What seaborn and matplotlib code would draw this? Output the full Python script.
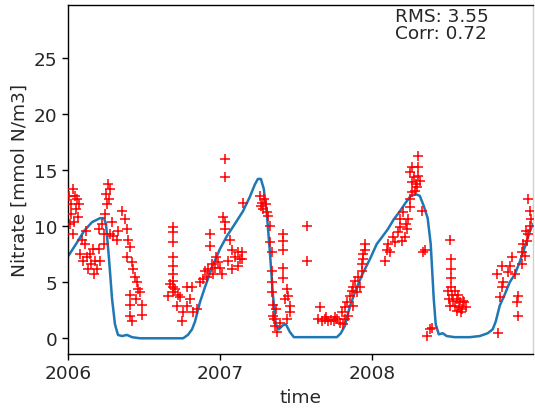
import numpy as np
import pandas as pd
import matplotlib
matplotlib.use("Agg")
import matplotlib.pyplot as plt
import matplotlib.dates as mdates
import seaborn as sns

# ---- model (decimal year, nitrate) ----
model_time = [2006.000, 2006.053, 2006.105, 2006.158, 2006.210, 2006.237, 2006.250, 2006.270,
              2006.290, 2006.309, 2006.329, 2006.355, 2006.388, 2006.421, 2006.474, 2006.757,
              2006.789, 2006.816, 2006.836, 2006.868, 2006.901, 2006.947, 2007.000, 2007.046,
              2007.099, 2007.151, 2007.197, 2007.230, 2007.250, 2007.270, 2007.289, 2007.309,
              2007.329, 2007.349, 2007.368, 2007.388, 2007.414, 2007.434, 2007.461, 2007.487,
              2007.770, 2007.796, 2007.822, 2007.855, 2007.888, 2007.934, 2007.987, 2008.033,
              2008.072, 2008.105, 2008.145, 2008.184, 2008.224, 2008.257, 2008.289, 2008.316,
              2008.342, 2008.368, 2008.388, 2008.408, 2008.421, 2008.441, 2008.467, 2008.493,
              2008.546, 2008.645, 2008.711, 2008.763, 2008.796, 2008.816, 2008.842, 2008.875,
              2008.908, 2008.941, 2008.974, 2009.007, 2009.039, 2009.059]
model_no3 = [7.3, 8.4, 9.55, 10.35, 10.7, 10.7, 10.2, 7.05,
             3.5, 1.25, 0.3, 0.2, 0.3, 0.1, 0.0, 0.0,
             0.3, 0.8, 1.5, 3.2, 4.55, 6.3, 7.95, 9.1,
             10.2, 11.3, 12.6, 13.7, 14.2, 14.2, 13.3, 11.1,
             7.7, 3.9, 1.25, 0.8, 1.15, 1.25, 0.55, 0.1,
             0.1, 0.45, 1.1, 2.8, 4.1, 5.6, 7.05, 8.4,
             9.1, 9.7, 10.6, 11.3, 12.1, 12.7, 12.85, 12.7,
             11.8, 10.7, 8.4, 3.5, 1.25, 0.35, 0.45, 0.2,
             0.1, 0.1, 0.2, 0.45, 0.8, 1.5, 2.9, 3.9,
             5.0, 5.7, 6.8, 8.2, 9.55, 10.2]

# ---- observations (decimal year, nitrate) ----
obs_time = [
    2006.007, 2006.020, 2006.033, 2006.046, 2006.053, 2006.066, 2006.013, 2006.033, 2006.059, 2006.039, 2006.072, 2006.020,
    2006.092, 2006.079, 2006.112, 2006.132, 2006.145, 2006.164, 2006.178, 2006.191, 2006.118, 2006.211, 2006.237, 2006.099,
    2006.151, 2006.171, 2006.125, 2006.204,
    2006.263, 2006.250, 2006.276, 2006.257, 2006.243, 2006.224, 2006.289, 2006.276, 2006.204, 2006.237, 2006.270,
    2006.296, 2006.322, 2006.329, 2006.355, 2006.375, 2006.388, 2006.395, 2006.408, 2006.388, 2006.421, 2006.428, 2006.441,
    2006.454, 2006.408, 2006.474, 2006.408, 2006.487, 2006.408, 2006.487, 2006.421, 2006.447, 2006.461,
    2006.691, 2006.691, 2006.691, 2006.691, 2006.691, 2006.691, 2006.691, 2006.691, 2006.691, 2006.658, 2006.704, 2006.737,
    2006.717, 2006.757, 2006.750, 2006.783, 2006.803, 2006.816, 2006.822, 2006.849, 2006.783, 2006.671, 2006.724,
    2006.868, 2006.888, 2006.914, 2006.921, 2006.947, 2006.967, 2006.987, 2007.013, 2006.954, 2006.934, 2006.934, 2007.033,
    2007.020, 2007.033, 2007.066, 2007.079, 2007.118, 2007.132, 2007.118, 2007.079, 2007.033, 2007.033, 2007.151, 2006.901,
    2006.974, 2007.000, 2007.053, 2007.099, 2007.145, 2007.145,
    2007.263, 2007.276, 2007.289, 2007.283, 2007.303, 2007.309, 2007.316, 2007.270, 2007.329, 2007.329, 2007.342, 2007.342,
    2007.342, 2007.342, 2007.349, 2007.349, 2007.362, 2007.375, 2007.395, 2007.414, 2007.414, 2007.414, 2007.414, 2007.414,
    2007.441, 2007.447, 2007.461, 2007.461, 2007.441, 2007.355, 2007.368, 2007.428, 2007.572, 2007.572,
    2007.658, 2007.645, 2007.671, 2007.691, 2007.711, 2007.730, 2007.750, 2007.770, 2007.789, 2007.697, 2007.757,
    2007.803, 2007.822, 2007.836, 2007.855, 2007.868, 2007.875, 2007.888, 2007.908, 2007.934, 2007.934, 2007.941, 2007.941,
    2007.954, 2007.954, 2007.875, 2007.842, 2007.822, 2007.901, 2007.921, 2007.809,
    2008.086, 2008.099, 2008.118, 2008.151, 2008.171, 2008.184, 2008.204, 2008.197, 2008.217, 2008.230, 2008.237, 2008.250,
    2008.250, 2008.263, 2008.263, 2008.250, 2008.263, 2008.303, 2008.303, 2008.303, 2008.296, 2008.283, 2008.329, 2008.349,
    2008.336, 2008.362, 2008.382, 2008.105, 2008.138, 2008.184, 2008.224, 2008.276, 2008.289, 2008.316,
    2008.513, 2008.520, 2008.520, 2008.520, 2008.520, 2008.500, 2008.526, 2008.546, 2008.566, 2008.507, 2008.533, 2008.559,
    2008.579, 2008.599, 2008.513, 2008.546, 2008.572, 2008.592, 2008.618, 2008.559, 2008.586, 2008.605, 2008.395,
    2008.829, 2008.961, 2008.954, 2008.961, 2008.842, 2008.855, 2008.862, 2008.822, 2008.855, 2008.908, 2008.921, 2008.895,
    2008.941, 2008.987, 2008.987, 2009.007, 2008.993, 2009.020, 2009.026, 2009.039, 2009.026, 2009.039, 2009.013, 2009.046,
]
obs_no3 = [
    12.7, 12.0, 13.3, 12.7, 11.5, 10.8, 10.2, 9.3, 12.4, 10.4, 12.0, 11.1,
    8.8, 7.5, 8.4, 6.2, 7.5, 8.0, 6.9, 6.2, 9.6, 6.9, 8.4, 6.9,
    6.6, 5.7, 7.2, 8.0,
    13.75, 12.9, 13.3, 12.0, 11.1, 10.2, 10.4, 9.3, 9.7, 9.3, 12.4,
    9.1, 8.8, 9.6, 11.3, 10.6, 9.7, 8.8, 8.1, 7.2, 6.8, 6.2, 5.5,
    5.0, 3.9, 4.1, 3.0, 3.0, 2.0, 2.1, 1.5, 3.5, 4.4,
    9.9, 9.5, 8.6, 7.2, 6.4, 5.7, 5.1, 4.6, 4.1, 3.75, 4.4, 3.7,
    2.9, 2.3, 1.5, 2.9, 3.5, 4.6, 2.3, 2.6, 4.6, 4.8, 3.9,
    5.0, 5.3, 5.5, 6.2, 6.6, 6.3, 6.8, 5.7, 5.7, 8.2, 9.3, 10.4,
    10.8, 9.7, 8.8, 7.9, 7.7, 7.1, 6.4, 6.2, 16.0, 14.4, 12.1, 6.0,
    7.2, 6.3, 6.9, 7.2, 7.7, 7.1,
    12.7, 12.1, 12.4, 11.5, 12.0, 11.25, 10.9, 11.8, 10.0, 8.6, 7.7, 6.0,
    5.0, 4.1, 3.0, 2.0, 1.1, 0.6, 1.4, 9.3, 8.7, 7.9, 6.3, 5.4,
    4.4, 3.75, 2.9, 2.3, 1.7, 1.7, 2.6, 3.5, 10.0, 6.9,
    2.8, 1.7, 1.5, 1.7, 1.5, 1.6, 1.5, 1.7, 1.4, 1.9, 1.9,
    2.3, 2.8, 3.2, 3.75, 4.2, 4.6, 5.1, 5.5, 6.0, 6.6, 7.1, 7.5,
    7.9, 8.4, 2.9, 2.0, 1.7, 4.1, 4.6, 1.25,
    6.9, 7.9, 7.7, 8.6, 9.5, 10.6, 11.25, 8.7, 9.0, 9.7, 10.6, 11.7,
    12.4, 13.0, 13.9, 14.8, 15.3, 16.2, 15.3, 14.5, 13.5, 13.1, 11.3, 7.9,
    7.7, 0.2, 0.8, 8.4, 9.0, 9.9, 10.2, 14.4, 13.75, 14.0,
    8.8, 7.1, 6.2, 5.4, 4.6, 4.2, 3.9, 4.2, 3.9, 3.5, 3.3, 3.5,
    3.2, 3.3, 2.9, 2.9, 2.8, 2.6, 2.8, 2.4, 2.3, 3.2, 0.9,
    0.5, 2.0, 3.2, 3.75, 3.7, 4.6, 5.0, 5.7, 6.4, 6.4, 7.2, 5.9,
    5.7, 6.6, 7.7, 7.3, 8.4, 8.7, 9.3, 10.0, 12.4, 11.3, 9.6, 10.6,
]

stats_text = "RMS: 3.55\nCorr: 0.72"
y_ticks = [0, 5, 10, 15, 20, 25]
x_tick_years = [2006, 2007, 2008]


def to_date(years):
    out = []
    for y in years:
        yi = int(np.floor(y))
        out.append(pd.Timestamp(f"{yi}-01-01") + pd.Timedelta(days=(y - yi) * 365.25))
    return out


model_df = pd.DataFrame({"time": to_date(model_time), "no3": model_no3})
obs_df = pd.DataFrame({"time": to_date(obs_time), "no3": obs_no3})

sns.set_style("ticks")
plt.rcParams["font.family"] = ["DejaVu Sans"]

fig = plt.figure(figsize=(5.35, 4.1), dpi=100)
ax = fig.add_axes([68 / 535, 55 / 410, 465 / 535, 349 / 410])

sns.lineplot(data=model_df, x="time", y="no3", ax=ax, color="#1f77b4", linewidth=1.8)
sns.scatterplot(data=obs_df, x="time", y="no3", ax=ax, marker="+", color="red",
                s=50, linewidth=1.1, zorder=3)

ax.set_xlim(to_date([2006.0])[0], to_date([2009.059])[0])
ax.set_ylim(-1.4, 29.7)
ax.set_yticks(y_ticks)
ax.set_xticks(to_date(x_tick_years))
ax.xaxis.set_major_formatter(mdates.DateFormatter("%Y"))
ax.tick_params(labelsize=13.3, length=4, width=1, color="black")
ax.set_xlabel("time", fontsize=13.3)
ax.set_ylabel("Nitrate [mmol N/m3]", fontsize=13.3)
for s in ax.spines.values():
    s.set_color("black")
    s.set_linewidth(1.0)
ax.spines["right"].set_color("#d0d0d0")

ax.text(0.703, 0.995, stats_text, transform=ax.transAxes, ha="left", va="top",
        fontsize=13.3, linespacing=0.95)

fig.savefig("out.png", dpi=100)
